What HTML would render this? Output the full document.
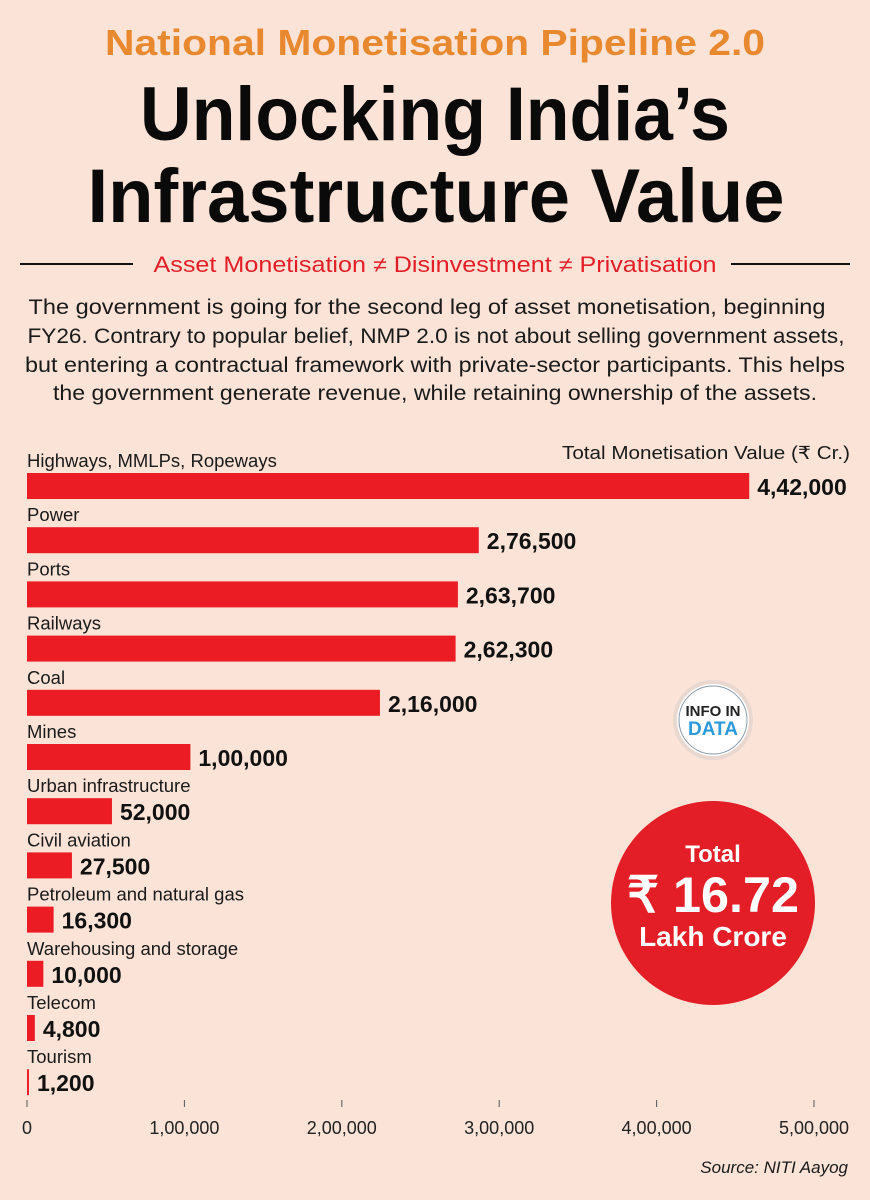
<!DOCTYPE html>
<html><head><meta charset="utf-8"><style>
html,body{margin:0;padding:0;background:#fbe3d8;}
svg{display:block;font-family:"Liberation Sans",sans-serif;}
</style></head><body>
<svg width="870" height="1200" viewBox="0 0 870 1200">
<rect width="870" height="1200" fill="#fbe3d8"/>
<text x="435" y="55" text-anchor="middle" font-size="36" font-weight="bold" fill="#e8892f" textLength="660" lengthAdjust="spacingAndGlyphs">National Monetisation Pipeline 2.0</text>
<text x="435" y="140" text-anchor="middle" font-size="76" font-weight="bold" fill="#0a0a0a" textLength="590" lengthAdjust="spacingAndGlyphs">Unlocking India’s</text>
<text x="436" y="222" text-anchor="middle" font-size="76" font-weight="bold" fill="#0a0a0a" textLength="697" lengthAdjust="spacingAndGlyphs">Infrastructure Value</text>
<line x1="20" y1="264" x2="133" y2="264" stroke="#111" stroke-width="2"/>
<line x1="731" y1="264" x2="850" y2="264" stroke="#111" stroke-width="2"/>
<text x="435" y="272" text-anchor="middle" font-size="22" fill="#e31e26" textLength="563" lengthAdjust="spacingAndGlyphs">Asset Monetisation ≠ Disinvestment ≠ Privatisation</text>
<g font-size="21" fill="#1a1a1a" text-anchor="middle">
<text x="427" y="314" textLength="797" lengthAdjust="spacingAndGlyphs">The government is going for the second leg of asset monetisation, beginning</text>
<text x="436" y="343" textLength="817" lengthAdjust="spacingAndGlyphs">FY26. Contrary to popular belief, NMP 2.0 is not about selling government assets,</text>
<text x="435" y="372" textLength="820" lengthAdjust="spacingAndGlyphs">but entering a contractual framework with private-sector participants. This helps</text>
<text x="435" y="400" textLength="764" lengthAdjust="spacingAndGlyphs">the government generate revenue, while retaining ownership of the assets.</text>
</g>
<text x="850" y="459" text-anchor="end" font-size="18" fill="#1a1a1a" textLength="288" lengthAdjust="spacingAndGlyphs">Total Monetisation Value (₹ Cr.)</text>
<g id="chart"></g>
<g id="axis"></g>
<text x="848" y="1173" text-anchor="end" font-size="17" font-style="italic" fill="#1a1a1a">Source: NITI Aayog</text>
<g>
<circle cx="713" cy="720" r="38" fill="#fff" stroke="#e8d8d0" stroke-width="4"/>
<circle cx="713" cy="720" r="34" fill="#fff" stroke="#8a9aa8" stroke-width="1"/>
<text x="713" y="716" text-anchor="middle" font-size="15" font-weight="bold" fill="#222">INFO IN</text>
<text x="713" y="735" text-anchor="middle" font-size="19" font-weight="bold" fill="#2a9ad8">DATA</text>
</g>
<g>
<circle cx="713" cy="903" r="102" fill="#e31e26"/>
<text x="713" y="862" text-anchor="middle" font-size="24" font-weight="bold" fill="#fff">Total</text>
<text x="713" y="912" text-anchor="middle" font-size="50" font-weight="bold" fill="#fff" textLength="172" lengthAdjust="spacingAndGlyphs">₹ 16.72</text>
<text x="713" y="946" text-anchor="middle" font-size="28" font-weight="bold" fill="#fff">Lakh Crore</text>
</g>
</svg>
<script>
const categories = ["Highways, MMLPs, Ropeways","Power","Ports","Railways","Coal","Mines","Urban infrastructure","Civil aviation","Petroleum and natural gas","Warehousing and storage","Telecom","Tourism"];
const values = [442000,276500,263700,262300,216000,100000,52000,27500,16300,10000,4800,1200];
const valueLabels = ["4,42,000","2,76,500","2,63,700","2,62,300","2,16,000","1,00,000","52,000","27,500","16,300","10,000","4,800","1,200"];
const tickValues = [0,100000,200000,300000,400000,500000];
const tickLabels = ["0","1,00,000","2,00,000","3,00,000","4,00,000","5,00,000"];

const NS = "http://www.w3.org/2000/svg";
function xs(v){ return 27 + v * 0.001634; }
function xTick(v){ return 27 + v * 0.001574; }
function yRow(i){ return 473 + i * 54.2; }
const chart = document.getElementById('chart');
const axis = document.getElementById('axis');
function mk(tag, attrs, parent, txt){
  const e = document.createElementNS(NS, tag);
  for (const k in attrs) e.setAttribute(k, attrs[k]);
  if (txt !== undefined) e.textContent = txt;
  parent.appendChild(e);
  return e;
}
categories.forEach((c, i) => {
  const y = yRow(i);
  const lab = mk('text', {x: 27, y: y - 6, 'font-size': 18.5, fill: '#1a1a1a'}, chart, c);
  
  
  const w = Math.max(1.5, xs(values[i]) - xs(0));
  const bar = mk('rect', {x: xs(0), y: y, width: w, height: 26, fill: '#ec1c24'}, chart);
  
  
  const vl = mk('text', {x: xs(values[i]) + 8, y: y + 22, 'font-size': 23, 'font-weight': 'bold', fill: '#111'}, chart, valueLabels[i]);
  
  
});
tickValues.forEach((t, i) => {
  const x = xTick(t);
  const tk = mk('line', {x1: x, y1: 1100, x2: x, y2: 1107, stroke: '#555', 'stroke-width': 1}, axis);
  
  
  const tl = mk('text', {x: x, y: 1134, 'text-anchor': 'middle', 'font-size': 18, fill: '#222'}, axis, tickLabels[i]);
  
  
});
</script>
</body></html>
